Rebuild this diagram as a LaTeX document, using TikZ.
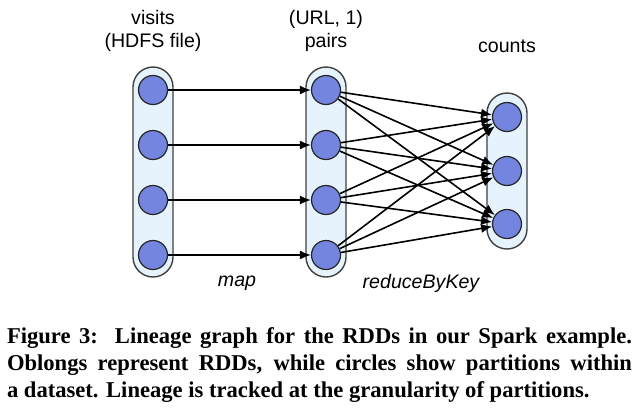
\documentclass[tikz,border=0pt]{standalone}
\usepackage{fontspec}
\setmainfont{Liberation Serif}
\setsansfont{Liberation Sans}
\usetikzlibrary{arrows.meta}

\definecolor{partblue}{RGB}{115,133,222}
\definecolor{rddblue}{RGB}{230,242,252}

\begin{document}
\begin{tikzpicture}[x=0.5pt, y=-0.5pt, rdd/.style={draw=black!75, line width=0.7pt, fill=rddblue, rounded corners=10pt, minimum width=20pt, inner sep=0pt}, part/.style={circle, draw=black!85, line width=0.6pt, fill=partblue, minimum size=14.5pt, inner sep=0pt}, dep/.style={-{Latex[length=5.5pt, width=4.5pt]}, line width=0.8pt}, title/.style={font=\sffamily\fontsize{9.8}{11.6}\selectfont, align=center}, op/.style={font=\sffamily\itshape\fontsize{9.8}{11.6}\selectfont}]
\useasboundingbox (0,0) rectangle (640,409);

% RDD oblongs
\node[rdd, minimum height=105pt] (visits) at (153,172) {}; \node[rdd, minimum height=105pt] (pairs) at (326,172) {}; \node[rdd, minimum height=78pt] (counts) at (507,171) {};

% partitions
\foreach \i/\y in {1/90, 2/145, 3/200, 4/255} { \node[part] (v\i) at (153,\y) {}; \node[part] (p\i) at (326,\y) {}; }
\foreach \j/\y in {1/117, 2/171, 3/224} { \node[part] (c\j) at (507,\y) {}; }

% map and shuffle
\foreach \i in {1,...,4} { \draw[dep] (v\i) -- (p\i); \foreach \j in {1,2,3} { \draw[dep] (p\i) -- (c\j); } }

\node[title] (tv) at (153,31) {visits\\(HDFS file)}; \node[title] (tp) at (326,31) {(URL, 1)\\pairs}; \node[title] (tc) at (507,46) {counts};
\node[op] (map) at (237,283) {map}; \node[op] (rbk) at (421,283) {reduceByKey};

\node[font=\bfseries\fontsize{11.3}{13.6}\selectfont, text width=312.5pt, align=justify, inner sep=0pt] (cap) at (319.5,365) {Figure 3:\ \ Lineage graph for the RDDs in our Spark example.\linebreak Oblongs represent RDDs, while circles show partitions within\linebreak a dataset. Lineage is tracked at the granularity of partitions.\hfill\null};
\end{tikzpicture}
\end{document}
